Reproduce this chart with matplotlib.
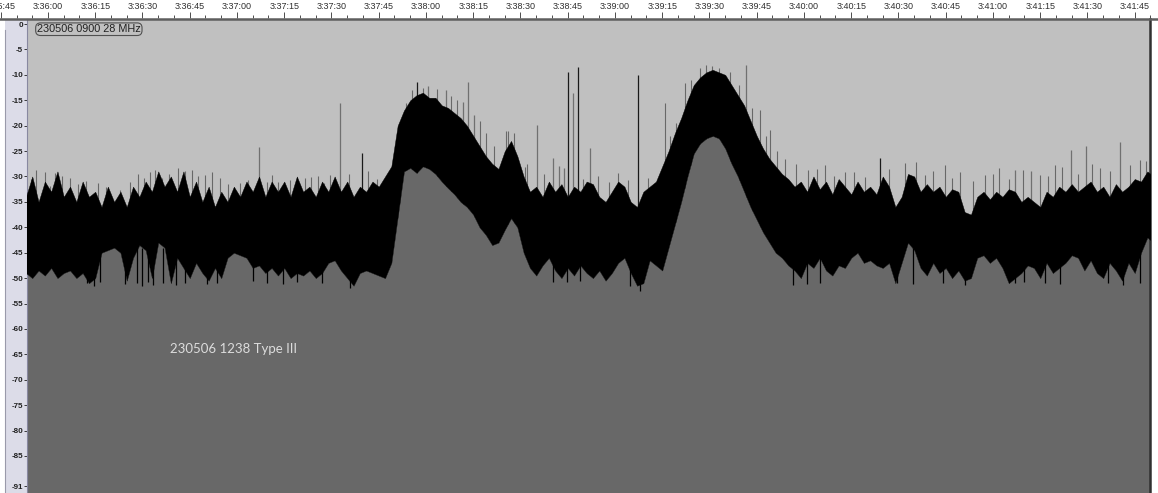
import numpy as np
import matplotlib
matplotlib.use("Agg")
import matplotlib.pyplot as plt
from matplotlib.patches import Rectangle
from matplotlib.lines import Line2D

plt.rcParams['font.family'] = ['Liberation Sans', 'DejaVu Sans']

# signal level (dB), one sample every 2 s, first sample 7 s before 3:36:00
t_start, t_step = -7, 2
upper_db = [
    -34, -30, -35, -31, -33, -29, -34, -32, -35, -31,
    -34, -33, -36, -32, -35, -33, -36, -32, -34, -31,
    -33, -29, -32, -30, -33, -29, -34, -31, -35, -32,
    -36, -33, -35, -32, -34, -31, -33, -30, -34, -31,
    -33, -31, -34, -30, -33, -32, -34, -31, -33, -30,
    -33, -31, -34, -32, -33, -31, -32, -30, -28, -20,
    -17, -15, -14, -13.5, -14.5, -14.5, -16, -16.5, -17.5, -18.5,
    -20, -22, -24, -26, -27.5, -28.5, -25, -23, -26, -30,
    -33, -32, -34, -31, -33, -31.5, -34, -32, -33, -31,
    -31.5, -34, -35, -33, -31, -32, -35, -36, -33, -32,
    -31, -28, -25, -21.5, -18.5, -15, -12, -10.5, -9.5, -9,
    -9.5, -10, -12, -14, -16, -19, -22, -24.5, -26.5, -28,
    -29.5, -30.5, -32, -31, -33, -30, -32.5, -31, -33.5, -30.5,
    -32, -33.5, -31, -33, -32, -33.5, -30, -32, -36, -34,
    -29.5, -30, -33, -31.5, -33, -32, -34, -32.5, -33, -37,
    -37.5, -34, -33, -34.5, -33, -34, -32.5, -33, -35, -34,
    -35, -36, -33, -34, -32, -33, -31.5, -33, -32, -31,
    -33, -32, -34, -31.5, -33, -32, -30.5, -31, -29, -30,
]
lower_db = [
    -49, -50, -48.5, -49.5, -48, -50, -49, -48.5, -50, -49,
    -51, -50, -45, -44.5, -44, -45, -50.5, -46, -43.5, -44.5,
    -50, -43, -44, -51, -46, -48, -50, -47, -49, -50.5,
    -48, -50, -46, -45, -45.5, -46, -48, -47.5, -49, -48,
    -49.5, -48, -50, -49, -49.5, -48.5, -50, -49, -47, -46.5,
    -48.5, -50, -51.5, -49, -48.5, -49, -49.5, -50, -47, -38,
    -29, -28.3, -29.3, -28, -28.5, -29.5, -31, -32.3, -33.5, -35,
    -36, -37.5, -40, -41.5, -43.5, -43, -40.5, -38.2, -40, -45,
    -48, -49.5, -47.5, -46, -48.5, -50, -48, -49.5, -47.5, -49,
    -50, -48.5, -50.5, -49, -47, -46, -49, -51.5, -51, -46.5,
    -47.5, -48.5, -44, -39.5, -35, -30, -25.5, -23.5, -22.5, -22,
    -22.5, -24.5, -27.5, -30, -33, -36, -38.5, -41, -43, -45,
    -46, -47.5, -48.5, -50, -47, -48, -46, -48.5, -49.5, -47.5,
    -48, -46, -45, -47, -46.5, -47.5, -48, -47, -51, -47,
    -43, -44.5, -48, -49.5, -47, -49, -48, -50, -48.5, -50.5,
    -50, -46, -45.5, -47, -46, -48, -51, -50, -49, -47.5,
    -48, -50, -47, -49, -48, -47, -45.5, -46, -48.5, -46.5,
    -49, -50, -47, -48.5, -50.5, -47, -49, -45, -42, -43,
]

# interference spikes: seconds after 3:36:00, peak dB, dark or grey
spike_t = [67.0, 92.7, 99.7, 117.1, 120.6, 126.3, 131.7, 133.3, 135.2, 155.2,
           160.3, 162.2, 163.8, 165.0, 166.7, 168.3, 172.0, 187.3, 221.6,
           264.0, 307.0, 312.0, 324.8, 329.5, 340.3]
spike_top = [-24.2, -15.6, -25.4, -11.4, -12.2, -13.0, -15.4, -11.4, -17.9, -19.9,
             -26.4, -28.0, -28.3, -9.4, -13.6, -8.5, -24.4, -10.0, -8.0,
             -26.4, -28.7, -29.0, -24.8, -24.0, -23.2]
spike_dark = [False, False, True, True, False, False, False, False, False, False,
              False, False, False, True, False, True, False, True, False,
              True, False, False, False, False, False]

# short grey hairs above the noise band
hair_t = [-5.5, -3.8, -1.0, 0.5, 2.2, 4.5, 7.0, 9.5, 12.0, 15.9, 18.5, 22.9,
          26.0, 28.5, 30.5, 32.4, 34.0, 36.2, 38.5, 41.3, 43.5, 45.7, 47.5, 49.8,
          52.0, 54.6, 57.0, 61.0, 63.5, 69.5, 71.0, 73.0, 76.8, 79.0, 81.6, 83.5,
          85.7, 87.5, 89.5, 95.5, 101.5, 104.5,
          111.0, 111.7, 113.5, 115.5, 119.0, 123.5, 128.0, 130.0, 137.0, 139.0,
          141.5, 145.5, 146.0, 148.0, 151.5, 152.0, 157.5, 170.0, 174.5, 178.0,
          181.0, 184.0, 190.5,
          195.9, 197.5, 199.5, 202.2, 204.0, 207.0, 209.0, 210.8, 213.0, 216.5,
          219.5, 223.5, 226.0, 228.0, 229.2, 231.5, 234.0,
          237.5, 241.3, 244.0, 246.7, 249.5, 253.0, 256.0, 259.5, 267.0, 272.0,
          275.5, 278.4, 281.0, 284.8, 287.0, 289.5, 293.5, 297.5, 300.0, 302.0,
          305.0, 309.5, 315.0, 317.5, 319.7, 322.0, 327.0, 331.5, 334.0, 337.0,
          343.5, 346.7, 348.5]
hair_top = [-30.5, -28.7, -29.1, -31.8, -29.3, -30.0, -30.3, -31.5, -30.8, -31.3, -32.0, -32.7,
            -31.0, -29.5, -30.2, -29.1, -28.8, -30.3, -29.6, -28.3, -29.0, -28.7, -30.0, -29.7,
            -29.2, -30.3, -31.5, -31.3, -30.6, -31.0, -29.8, -31.1, -30.7, -31.4, -30.3, -30.1,
            -29.9, -31.2, -29.7, -29.5, -29.0, -30.4,
            -22.0, -22.8, -15.5, -13.0, -12.5, -12.8, -14.2, -15.0, -19.0, -21.5,
            -24.0, -21.0, -21.0, -21.5, -28.2, -27.5, -29.5, -30.5, -30.0, -31.0,
            -29.4, -30.6, -30.2,
            -15.6, -22.0, -19.5, -11.6, -11.0, -8.7, -8.0, -8.3, -8.6, -9.5,
            -12.0, -16.5, -17.0, -22.0, -20.9, -25.0, -26.5,
            -27.5, -28.7, -28.6, -27.8, -30.0, -29.1, -29.2, -30.1, -28.5, -27.4,
            -27.2, -29.7, -29.0, -27.8, -30.2, -29.1, -30.8, -29.7, -29.6, -28.3,
            -30.4, -28.8, -29.7, -30.0, -27.8, -28.2, -29.5, -27.6, -28.3, -28.9,
            -27.8, -26.8, -27.0]

# black drips below the noise band
drip_t = [12.4, 14.5, 16.5, 24.4, 28.3, 29.8, 31.7, 33.3, 36.5, 40.6, 43.5, 50.5,
          53.7, 65.0, 69.5, 74.5, 79.0, 87.0, 96.0, 160.3, 164.8, 168.9, 184.8, 188.0,
          236.5, 241.0, 245.0, 269.5, 274.6, 284.1, 291.1, 307.0, 309.8, 316.5,
          321.3, 336.5, 341.3, 346.7]
drip_bottom = [-51.0, -51.5, -50.8, -51.2, -51.0, -51.5, -50.8, -51.3, -51.0, -51.4, -50.9, -51.2,
               -51.0, -50.6, -51.0, -51.2, -50.8, -51.0, -52.0, -50.8, -50.8, -50.6, -51.5, -52.5,
               -51.4, -51.2, -51.0, -51.0, -51.2, -51.0, -51.4, -51.0, -50.8, -51.0,
               -51.2, -51.0, -51.3, -50.9]

y_ticks = [0, -5, -10, -15, -20, -25, -30, -35, -40, -45, -50,
           -55, -60, -65, -70, -75, -80, -85, -91]
base_sec = 3 * 3600 + 36 * 60
major_t = list(range(-15, 350, 15))
minor_t = list(range(-15, 352, 5))

times = t_start + t_step * np.arange(len(upper_db))

W, H = 1158, 493
fig = plt.figure(figsize=(W / 100, H / 100), dpi=100)
fig.patch.set_facecolor('white')


def px_box(x0, y0, x1, y1):
    return [x0 / W, 1 - y1 / H, (x1 - x0) / W, (y1 - y0) / H]


# lavender strip behind the level scale
fig.patches.append(Rectangle((5 / W, 0), 22 / W, 1 - 19 / H, transform=fig.transFigure,
                             facecolor='#dcdce8', edgecolor='none', zorder=-5))
fig.lines.append(Line2D([4.5 / W, 4.5 / W], [0, 1 - 30 / H], transform=fig.transFigure,
                        color='#9a9aaa', lw=0.8, zorder=-4))
fig.lines.append(Line2D([0, 1], [1 - 18.5 / H, 1 - 18.5 / H], transform=fig.transFigure,
                        color='#5e5e5e', lw=1.8, zorder=5))

ax = fig.add_axes(px_box(27, 19, 1150, 493))
ax.set_facecolor('#c0c0c0')
ax.set_xlim(-21 / 3.15, 1102 / 3.15)
ax.set_ylim(-92.3, 1.0)

ax.vlines(spike_t, -40, spike_top, colors=['#1a1a1a' if d else '#707070' for d in spike_dark],
          lw=0.9, zorder=1)
ax.vlines(hair_t, -40, hair_top, colors='#686868', lw=0.8, zorder=1)
ax.fill_between(times, -95, lower_db, color='#686868', lw=0, zorder=2)
ax.fill_between(times, lower_db, upper_db, color='black', lw=0.3, zorder=3)
ax.vlines(drip_t, -44, drip_bottom, colors='black', lw=0.9, zorder=3)

ax.set_xticks([])
ax.set_yticks(y_ticks)
ax.set_yticklabels([str(v) for v in y_ticks], fontweight='bold')
ax.tick_params(axis='y', direction='out', length=2, width=0.6, pad=0.8,
               labelsize=5.8, colors='#202020')
ax.spines['bottom'].set_visible(False)
ax.spines['left'].set_color('#8888a0')
ax.spines['left'].set_linewidth(0.8)
ax.spines['top'].set_visible(False)
ax.spines['right'].set_color('#303030')
ax.spines['right'].set_linewidth(1.8)

ax.text(-3.5, -1.6, '230506 0900 28 MHz', fontsize=7.8, color='#202020',
        va='baseline', ha='left', zorder=6,
        bbox=dict(boxstyle='round,pad=0.12,rounding_size=0.45', fc='#c0c0c0',
                  ec='#505050', lw=0.8))
ax.text(38.7, -64.75, '230506 1238 Type III', fontsize=9.5, color='#dcdcdc',
        family=['Lato', 'DejaVu Sans'], va='baseline', ha='left', zorder=6)

# time ruler along the top
rx = fig.add_axes(px_box(0, 0, W, 18))
rx.set_xlim(-48 / 3.15, 1110 / 3.15)
rx.set_ylim(0, 1)
rx.set_yticks([])
rx.set_xticks(major_t)
rx.set_xticks(minor_t, minor=True)
labels = []
for t in major_t:
    s = base_sec + t
    labels.append('%d:%02d:%02d' % (s // 3600, (s % 3600) // 60, s % 60))
rx.set_xticklabels(labels)
rx.tick_params(axis='x', which='both', direction='in', bottom=True, top=False,
               labelbottom=False, labeltop=True, pad=-8, labelsize=6.5,
               colors='#303030', width=0.6)
rx.tick_params(axis='x', which='major', length=4)
rx.tick_params(axis='x', which='minor', length=2)
for side in rx.spines:
    rx.spines[side].set_visible(False)

fig.savefig('out.png', dpi=100)
